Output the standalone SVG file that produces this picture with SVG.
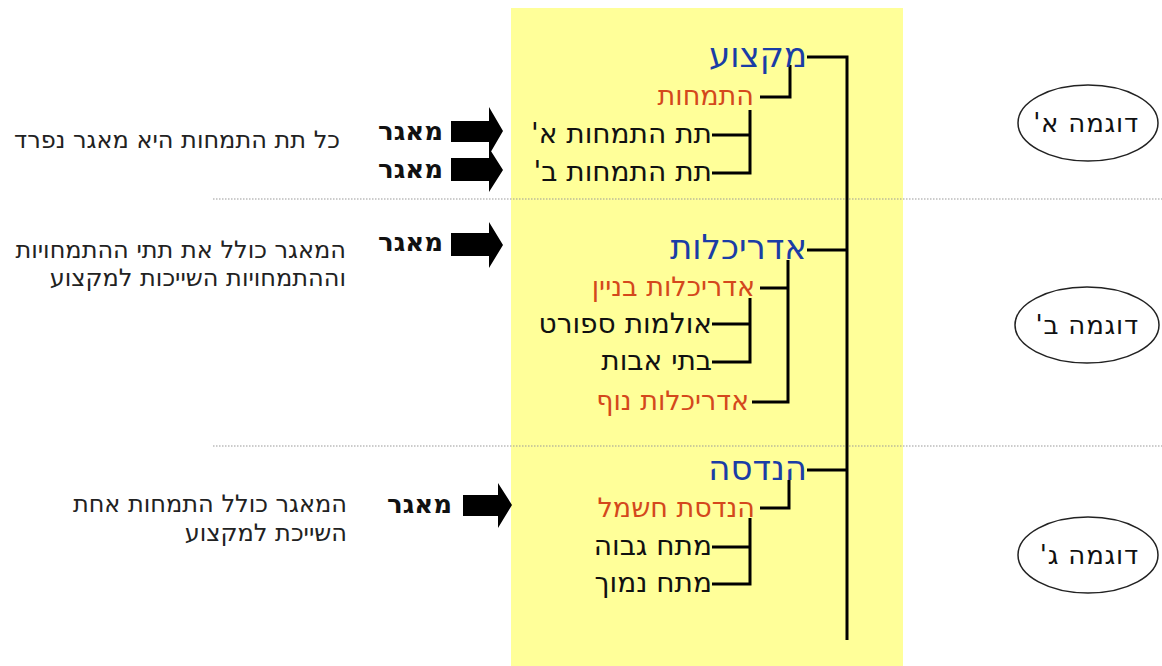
<svg xmlns="http://www.w3.org/2000/svg" width="1162" height="666" viewBox="0 0 1162 666">
<defs>
<style>
text{font-family:"DejaVu Sans","Liberation Sans",sans-serif;direction:rtl;text-anchor:start;unicode-bidi:embed}
.t1{fill:#1a3da6;font-size:34px}
.t2{fill:#d4481c;font-size:27px}
.t3{fill:#111;font-size:28px}
.lbl{fill:#111;font-size:26px;font-weight:bold}
.note{fill:#222;font-size:24px}
.ex{fill:#111;font-size:26px;letter-spacing:0.8px}
.ln{fill:none;stroke:#000;stroke-width:3}
.dot{stroke:#999;stroke-width:1.2;stroke-dasharray:1.5 1.5}
.arr{fill:#000}
.ell{fill:#fff;stroke:#222;stroke-width:1.5}
</style>
</defs>
<rect x="511" y="8" width="392" height="658" fill="#ffff99"/>
<g id="separators">
<line class="dot" x1="213" y1="199" x2="1162" y2="199"/>
<line class="dot" x1="213" y1="446" x2="1162" y2="446"/>
</g>
<g id="connectors">
<path class="ln" d="M847 640 V57 H807"/>
<path class="ln" d="M847 250 H807"/>
<path class="ln" d="M847 470 H807"/>
<path class="ln" d="M790 65 V97 H760"/>
<path class="ln" d="M750 110 V173 H712 M750 135 H712"/>
<path class="ln" d="M788 260 V402 H752 M788 288 H760"/>
<path class="ln" d="M750 298 V362 H712 M750 324 H712"/>
<path class="ln" d="M789 480 V508 H760"/>
<path class="ln" d="M750 518 V584 H712 M750 547 H712"/>
</g>
<g id="node-a">
<text class="t1" x="807" y="67">מקצוע</text>
<text class="t2" x="754" y="105">התמחות</text>
<text class="t3" x="712" y="143">תת התמחות א'</text>
<text class="t3" x="712" y="181">תת התמחות ב'</text>
</g>
<g id="node-b">
<text class="t1" x="807" y="259">אדריכלות</text>
<text class="t2" x="755" y="296">אדריכלות בניין</text>
<text class="t3" x="712" y="333">אולמות ספורט</text>
<text class="t3" x="712" y="370">בתי אבות</text>
<text class="t2" x="749" y="410">אדריכלות נוף</text>
</g>
<g id="node-c">
<text class="t1" x="807" y="480">הנדסה</text>
<text class="t2" x="755" y="517">הנדסת חשמל</text>
<text class="t3" x="712" y="555">מתח גבוה</text>
<text class="t3" x="712" y="592">מתח נמוך</text>
</g>
<g id="arrows">
<path class="arr" d="M451 121 H489 V107 L503 131 L489 155 V142 H451 Z"/>
<path class="arr" d="M451 158 H489 V148 L503 170 L489 192 V181 H451 Z"/>
<path class="arr" d="M451 233 H489 V222 L503 245 L489 268 V256 H451 Z"/>
<path class="arr" d="M463 495 H498 V483 L512 505 L498 528 V516 H463 Z"/>
<text class="lbl" x="443" y="140">מאגר</text>
<text class="lbl" x="443" y="178">מאגר</text>
<text class="lbl" x="443" y="251">מאגר</text>
<text class="lbl" x="452" y="513">מאגר</text>
</g>
<g id="notes">
<text class="note" x="340" y="148">כל תת התמחות היא מאגר נפרד</text>
<text class="note" x="346" y="258">המאגר כולל את תתי ההתמחויות</text>
<text class="note" x="346" y="286">וההתמחויות השייכות למקצוע</text>
<text class="note" x="347" y="512">המאגר כולל התמחות אחת</text>
<text class="note" x="347" y="541">השייכת למקצוע</text>
</g>
<g id="example-a">
<ellipse class="ell" cx="1088" cy="123" rx="70" ry="38"/>
<text class="ex" x="1139" y="132">דוגמה א'</text>
</g>
<g id="example-b">
<ellipse class="ell" cx="1087" cy="325" rx="72" ry="38"/>
<text class="ex" x="1139" y="334">דוגמה ב'</text>
</g>
<g id="example-c">
<ellipse class="ell" cx="1088" cy="555" rx="70" ry="38"/>
<text class="ex" x="1139" y="564">דוגמה ג'</text>
</g>
</svg>
